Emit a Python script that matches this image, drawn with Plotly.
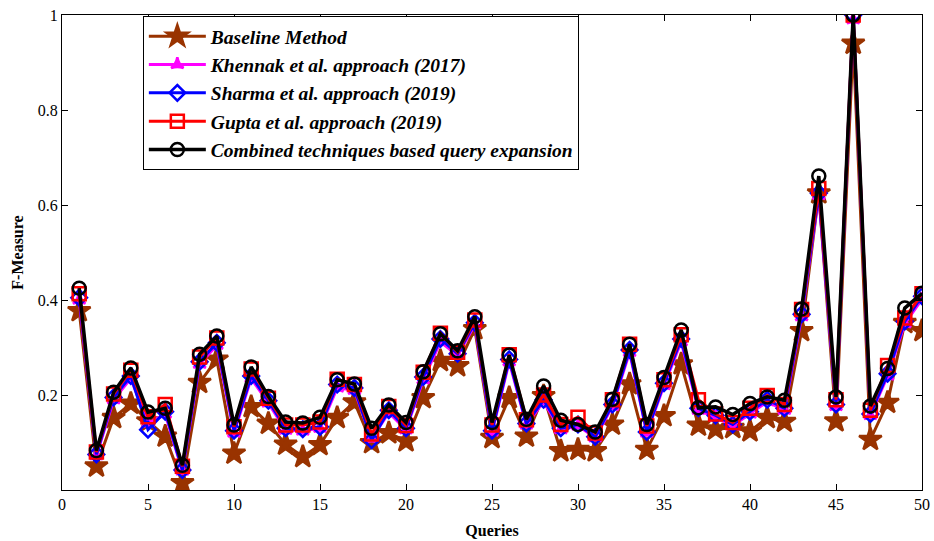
import plotly.graph_objects as go

queries = list(range(1, 51))

baseline = [0.377,0.050,0.152,0.182,0.145,0.113,0.015,0.226,0.275,0.077,
            0.175,0.140,0.096,0.070,0.095,0.152,0.185,0.099,0.120,0.103,
            0.194,0.272,0.261,0.339,0.110,0.194,0.113,0.198,0.082,0.085,
            0.082,0.138,0.223,0.085,0.156,0.265,0.136,0.128,0.131,0.124,
            0.152,0.144,0.335,0.625,0.145,0.940,0.106,0.184,0.352,0.335]

khennak = [0.400,0.072,0.190,0.235,0.140,0.160,0.040,0.265,0.305,0.120,
           0.235,0.183,0.126,0.124,0.130,0.215,0.210,0.108,0.163,0.127,
           0.232,0.312,0.283,0.348,0.122,0.270,0.137,0.186,0.127,0.135,
           0.110,0.176,0.290,0.120,0.220,0.312,0.168,0.153,0.135,0.160,
           0.186,0.168,0.365,0.620,0.176,0.990,0.157,0.240,0.350,0.402]

sharma = [0.405,0.075,0.195,0.240,0.127,0.165,0.042,0.270,0.310,0.125,
          0.240,0.188,0.130,0.128,0.133,0.222,0.215,0.105,0.168,0.130,
          0.238,0.318,0.287,0.352,0.125,0.275,0.140,0.190,0.130,0.138,
          0.112,0.180,0.295,0.122,0.225,0.318,0.172,0.157,0.138,0.165,
          0.190,0.172,0.370,0.625,0.180,1.000,0.160,0.245,0.355,0.408]

gupta = [0.413,0.080,0.202,0.252,0.154,0.180,0.050,0.280,0.320,0.133,
         0.255,0.193,0.137,0.137,0.143,0.233,0.222,0.118,0.176,0.136,
         0.248,0.330,0.290,0.358,0.137,0.285,0.148,0.200,0.138,0.153,
         0.120,0.190,0.307,0.135,0.232,0.327,0.190,0.160,0.142,0.172,
         0.199,0.180,0.380,0.635,0.190,1.000,0.168,0.262,0.362,0.413]

combined = [0.425,0.083,0.206,0.257,0.164,0.172,0.052,0.286,0.324,0.137,
            0.259,0.197,0.143,0.141,0.153,0.232,0.223,0.130,0.179,0.142,
            0.249,0.329,0.293,0.365,0.142,0.284,0.149,0.219,0.147,0.138,
            0.122,0.191,0.307,0.138,0.237,0.337,0.173,0.175,0.159,0.182,
            0.196,0.189,0.381,0.661,0.196,1.000,0.177,0.256,0.383,0.414]

names = ["Baseline Method", "Khennak et al. approach (2017)",
         "Sharma et al. approach (2019)", "Gupta et al. approach (2019)",
         "Combined techniques based query expansion"]

series = [baseline, khennak, sharma, gupta, combined]
colors = ["#993300", "#FF00FF", "#0000FF", "#FF0000", "#000000"]
symbols = ["star", "star-triangle-up", "diamond-open", "square-open", "circle-open"]
sizes = [17, 9, 12, 13, 13]
widths = [3, 3, 3, 3, 3.5]

fig = go.Figure()
for i, (nm, ys) in enumerate(zip(names, series)):
    fig.add_trace(go.Scatter(
        x=queries, y=ys, name=nm, mode="lines+markers",
        line=dict(color=colors[i], width=widths[i]),
        marker=dict(symbol=symbols[i], size=sizes[i], color=colors[i],
                    line=dict(color=colors[i], width=2.5)),
        legendgroup=f"g{i}",
    ))

axfont = dict(family="Liberation Serif", size=16, color="black")
fig.update_layout(
    width=934, height=541,
    margin=dict(l=62, r=12, t=15, b=51),
    paper_bgcolor="white", plot_bgcolor="white",
    showlegend=True,
    legend=dict(x=0.094, y=0.998, xanchor="left", yanchor="top",
                bgcolor="white", bordercolor="black", borderwidth=1,
                font=dict(family="Liberation Serif", size=19.5, color="black",
                          weight="bold", style="italic"),
                tracegroupgap=0, itemwidth=57),
    xaxis=dict(range=[0, 50], tickvals=list(range(0, 51, 5)),
               ticks="inside", ticklen=6, tickcolor="black",
               showline=True, linecolor="black", linewidth=1, mirror="ticks",
               showgrid=False, zeroline=False, tickfont=axfont, automargin=False,
               title=dict(text="<b>Queries</b>", font=axfont, standoff=12)),
    yaxis=dict(range=[0, 1], tickvals=[0.2, 0.4, 0.6, 0.8, 1],
               ticktext=["0.2", "0.4", "0.6", "0.8", "1"],
               ticks="inside", ticklen=6, tickcolor="black",
               showline=True, linecolor="black", linewidth=1, mirror="ticks",
               showgrid=False, zeroline=False, tickfont=axfont, automargin=False,
               title=dict(text="<b>F-Measure</b>", font=axfont, standoff=10)),
)

fig.write_html("out.html")
